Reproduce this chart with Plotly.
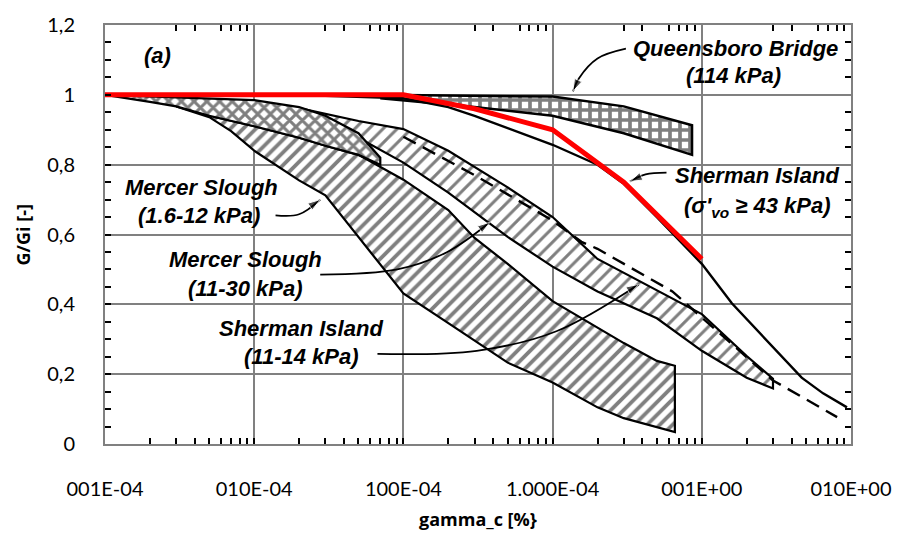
import numpy as np
import plotly.graph_objects as go

# ---------------- data ----------------
x_tick_vals = [1e-4, 1e-3, 1e-2, 1e-1, 1, 10]
x_tick_text = ["001E-04", "010E-04", "100E-04", "1.000E-04", "001E+00", "010E+00"]
y_tick_vals = [0, 0.2, 0.4, 0.6, 0.8, 1.0, 1.2]
y_tick_text = ["0", "0,2", "0,4", "0,6", "0,8", "1", "1,2"]

# red overlay curve
red_x = [1e-4, 1e-3, 1e-2, 3e-2, 1e-1, 3e-1, 1.0]
red_y = [1.0, 1.0, 1.0, 0.96, 0.90, 0.75, 0.53]

# Mercer Slough (1.6-12 kPa) band (diagonal hatch)
ms1_up_x = [3e-4, 5e-4, 1e-3, 2e-3, 3e-3, 5e-3, 1e-2, 2e-2, 3e-2, 5e-2, 0.1, 0.2, 0.3, 0.5, 0.66]
ms1_up_y = [0.967, 0.94, 0.91, 0.877, 0.854, 0.828, 0.757, 0.67, 0.59, 0.516, 0.409, 0.332, 0.289, 0.238, 0.224]
ms1_lo_x = [0.66, 0.5, 0.3, 0.2, 0.1, 5e-2, 3e-2, 2e-2, 1e-2, 5e-3, 3e-3, 2e-3, 1e-3, 7e-4, 5e-4, 3e-4]
ms1_lo_y = [0.034, 0.048, 0.074, 0.105, 0.176, 0.233, 0.295, 0.346, 0.431, 0.593, 0.712, 0.755, 0.84, 0.896, 0.936, 0.967]

# cross-hatched upper part
ch_x = [1e-4, 3e-4, 1e-3, 2e-3, 3e-3, 5e-3, 7e-3, 7e-3, 5e-3, 3e-3, 2e-3, 1e-3, 5e-4, 3e-4, 2e-4, 1e-4]
ch_y = [1.0, 0.993, 0.985, 0.965, 0.94, 0.89, 0.82, 0.80, 0.828, 0.854, 0.877, 0.91, 0.94, 0.967, 0.98, 1.0]

# Queensboro Bridge band
qb_x = [7e-3, 0.03, 0.1, 0.3, 0.86, 0.86, 0.3, 0.1, 0.03, 7e-3]
qb_y = [1.0, 0.998, 0.995, 0.967, 0.913, 0.828, 0.89, 0.94, 0.965, 0.99]

# thin band (Mercer Slough 11-30 / Sherman Island 11-14)
tb_x = [2e-3, 5e-3, 1e-2, 2e-2, 5e-2, 0.1, 0.2, 0.5, 1, 2, 3,
        3, 2, 1, 0.5, 0.2, 0.1, 5e-2, 2e-2, 1e-2, 5e-3, 2e-3]
tb_y = [0.962, 0.925, 0.902, 0.84, 0.735, 0.65, 0.53, 0.44, 0.372, 0.252, 0.187,
        0.159, 0.19, 0.267, 0.36, 0.437, 0.508, 0.593, 0.72, 0.806, 0.877, 0.953]

# Sherman Island (>= 43 kPa) curve
si_x = [1e-4, 1e-3, 3e-3, 1e-2, 2e-2, 3e-2, 5e-2, 0.1, 0.2, 0.3, 0.5, 1, 1.59, 2.3, 3.3, 4.67, 6.5, 9.4]
si_y = [1.0, 0.999, 0.997, 0.99, 0.965, 0.94, 0.905, 0.857, 0.80, 0.745, 0.65, 0.516, 0.403, 0.33, 0.26, 0.19, 0.145, 0.105]

# dashed curve
da_x = [1e-2, 3e-2, 0.1, 0.156, 0.2, 0.635, 3, 8.07]
da_y = [0.88, 0.77, 0.64, 0.579, 0.559, 0.437, 0.182, 0.077]

# label arrows (paths ending at the arrow head)
arrows = [
    ([0.31, 0.2, 0.15, 0.137], [1.132, 1.104, 1.047, 1.01]),
    ([0.58, 0.42, 0.33], [0.777, 0.772, 0.752]),
    ([1.39e-3, 2e-3, 2.77e-3], [0.655, 0.658, 0.70]),
    ([2.77e-3, 9.1e-3, 0.0197, 0.038], [0.485, 0.50, 0.55, 0.635]),
    ([6.7e-3, 0.031, 0.106, 0.377], [0.258, 0.267, 0.323, 0.457]),
]

labels = [
    ("(a)", 2.25e-4, 1.112),
    ("Queensboro Bridge", 1.67, 1.132),
    ("(114 kPa)", 1.64, 1.055),
    ("Sherman Island", 2.33, 0.769),
    ("(σ'<sub>vo</sub> ≥ 43 kPa)", 2.33, 0.678),
    ("Mercer Slough", 4.42e-4, 0.735),
    ("(1.6-12 kPa)", 4.28e-4, 0.655),
    ("Mercer Slough", 8.8e-4, 0.528),
    ("(11-30 kPa)", 8.8e-4, 0.445),
    ("Sherman Island", 2.07e-3, 0.332),
    ("(11-14 kPa)", 2.07e-3, 0.252),
]

# ---------------- figure ----------------
fig = go.Figure()

fig.add_trace(go.Scatter(
    x=ms1_up_x + ms1_lo_x, y=ms1_up_y + ms1_lo_y, mode="lines", fill="toself",
    fillcolor="white",
    fillpattern=dict(shape="/", fgcolor="black", bgcolor="white", size=9, solidity=0.42),
    line=dict(color="black", width=2.2), hoverinfo="skip", showlegend=False))

fig.add_trace(go.Scatter(
    x=tb_x, y=tb_y, mode="lines", fill="toself", fillcolor="white",
    fillpattern=dict(shape="/", fgcolor="black", bgcolor="white", size=10, solidity=0.3),
    line=dict(color="black", width=2.2), hoverinfo="skip", showlegend=False))

fig.add_trace(go.Scatter(
    x=ch_x, y=ch_y, mode="lines", fill="toself", fillcolor="white",
    fillpattern=dict(shape="x", fgcolor="black", bgcolor="white", size=9, solidity=0.55),
    line=dict(color="black", width=2.2), hoverinfo="skip", showlegend=False))

fig.add_trace(go.Scatter(
    x=qb_x, y=qb_y, mode="lines", fill="toself", fillcolor="white",
    fillpattern=dict(shape="+", fgcolor="black", bgcolor="white", size=10, solidity=0.6),
    line=dict(color="black", width=2.5), hoverinfo="skip", showlegend=False))

fig.add_trace(go.Scatter(
    x=si_x, y=si_y, mode="lines", line=dict(color="black", width=2.4),
    hoverinfo="skip", showlegend=False))

fig.add_trace(go.Scatter(
    x=da_x, y=da_y, mode="lines", line=dict(color="black", width=2.4, dash="14px,8px"),
    hoverinfo="skip", showlegend=False))

for ax_, ay_ in arrows:
    n = len(ax_)
    fig.add_trace(go.Scatter(
        x=ax_, y=ay_, mode="lines+markers",
        line=dict(color="black", width=1.8, shape="spline"),
        marker=dict(symbol="arrow", angleref="previous", color="black",
                    size=[0] * (n - 1) + [13]),
        hoverinfo="skip", showlegend=False))

fig.add_trace(go.Scatter(
    x=red_x, y=red_y, mode="lines", line=dict(color="#ff0000", width=5),
    hoverinfo="skip", showlegend=False))

for txt, lx, ly in labels:
    fig.add_annotation(
        x=np.log10(lx), y=ly, xref="x", yref="y", text=f"<b><i>{txt}</i></b>",
        showarrow=False, font=dict(family="Liberation Sans, Arial", size=22, color="black"))

fig.add_annotation(x=-0.110, y=0.5, xref="paper", yref="paper", text="<b>G/Gi [-]</b>",
                   textangle=-90, showarrow=False, xanchor="center", yanchor="middle",
                   font=dict(family="Open Sans", size=18, color="black"))
fig.add_annotation(x=0.5, y=-0.178, xref="paper", yref="paper", text="<b>gamma_c [%}</b>",
                   showarrow=False, xanchor="center", yanchor="middle",
                   font=dict(family="Open Sans", size=18, color="black"))

axis_common = dict(showline=True, linecolor="#808080", linewidth=2, mirror=True,
                   ticks="inside", ticklen=1, tickcolor="rgba(0,0,0,0)", zeroline=False)

minor_x = dict(ticks="inside", ticklen=6, tickwidth=2, tickcolor="black",
               tickmode="linear", dtick="D1", showgrid=False)
minor_y = dict(ticks="inside", ticklen=6, tickwidth=2, tickcolor="black",
               tickmode="linear", dtick=0.05, showgrid=False)

fig.update_layout(
    width=904, height=534,
    margin=dict(l=105, r=47, t=23, b=90),
    paper_bgcolor="white", plot_bgcolor="white",
    showlegend=False,
    xaxis=dict(type="log", range=[-4, 1], tickvals=x_tick_vals, ticktext=x_tick_text,
               showgrid=True, gridcolor="#808080", gridwidth=2,
               ticklabelstandoff=26,
               tickfont=dict(family="Lato", size=20, color="black"),
               minor=minor_x, **axis_common),
    xaxis2=dict(type="log", range=[-4, 1], overlaying="x", side="top", showticklabels=False,
                showgrid=False, showline=False, zeroline=False,
                ticks="inside", ticklen=1, tickcolor="rgba(0,0,0,0)", minor=minor_x),
    yaxis=dict(range=[0, 1.2], tickvals=y_tick_vals, ticktext=y_tick_text,
               showgrid=True, gridcolor="#808080", gridwidth=2,
               ticklabelstandoff=24,
               tickfont=dict(family="Lato", size=20, color="black"),
               minor=minor_y, **axis_common),
    yaxis2=dict(range=[0, 1.2], overlaying="y", side="right", showticklabels=False,
                showgrid=False, showline=False, zeroline=False,
                ticks="inside", ticklen=1, tickcolor="rgba(0,0,0,0)", minor=minor_y),
)

# invisible trace to activate the mirrored tick axes
fig.add_trace(go.Scatter(x=[1e-4], y=[0], xaxis="x2", yaxis="y2", mode="markers",
                         marker=dict(opacity=0), hoverinfo="skip", showlegend=False))

fig.write_html("out.html")
